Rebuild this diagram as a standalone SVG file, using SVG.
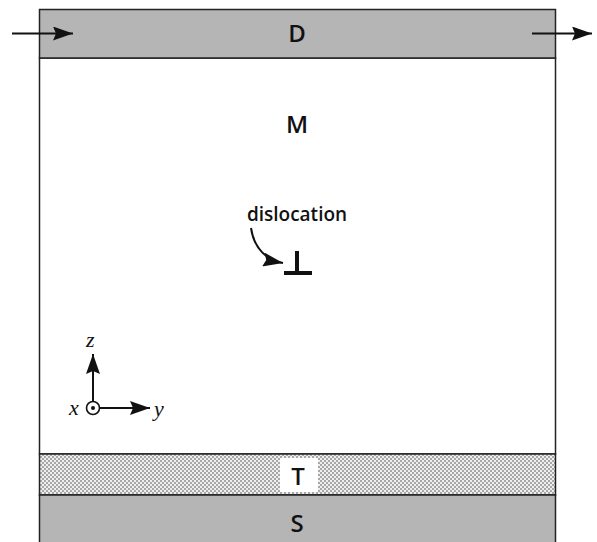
<svg xmlns="http://www.w3.org/2000/svg" width="597" height="542" viewBox="0 0 597 542">
<defs>
<style>
.layer{stroke:#222;stroke-width:1.5}
.gray{fill:#b5b5b5}
.lbl{font-family:"Open Sans","DejaVu Sans",sans-serif;font-weight:600;font-size:24px;fill:#111;text-anchor:middle}
.ax{font-family:"Liberation Serif",serif;font-style:italic;font-size:22px;fill:#111}
.line{stroke:#111;stroke-width:2;fill:none}
</style>
<marker id="big" viewBox="0 0 20 14" refX="20" refY="7" markerWidth="21" markerHeight="14" markerUnits="userSpaceOnUse" orient="auto">
<path d="M0,0 L20,7 L0,14 L3,7 z" fill="#111"/>
</marker>
<pattern id="chk" width="4" height="4" patternUnits="userSpaceOnUse">
<rect width="4" height="4" fill="#eeeeee"/>
<rect width="2" height="2" fill="#a8a8a8"/>
<rect x="2" y="2" width="2" height="2" fill="#a8a8a8"/>
</pattern>
</defs>
<rect width="597" height="542" fill="#fff"/>
<g id="M">
<rect x="39.5" y="58" width="516" height="396" fill="#fff" class="layer"/>
<text class="lbl" x="297" y="133">M</text>
</g>
<g id="D">
<rect x="39.5" y="9.5" width="516" height="48.5" class="layer gray"/>
<text class="lbl" x="297" y="42">D</text>
</g>
<g id="T">
<rect x="39.5" y="454" width="516" height="41" fill="url(#chk)" class="layer"/>
<rect x="280" y="458" width="38" height="34" fill="#fff"/>
<text class="lbl" x="298" y="485">T</text>
</g>
<g id="S">
<rect x="39.5" y="495" width="516" height="50" class="layer gray"/>
<text class="lbl" x="297" y="532">S</text>
</g>
<g id="dislocation">
<text x="297" y="221" style="font-family:'Open Sans','DejaVu Sans',sans-serif;font-weight:600;font-size:19px;fill:#111;text-anchor:middle">dislocation</text>
<path d="M297,251 V272 M284,273 H312" stroke="#111" stroke-width="4" fill="none"/>
</g>
<g id="axes">
<circle cx="93" cy="408" r="6.5" fill="#fff" stroke="#111" stroke-width="1.6"/>
<circle cx="93" cy="408" r="2" fill="#111"/>
<text class="ax" x="86" y="347">z</text>
<text class="ax" x="69" y="415">x</text>
<text class="ax" x="154" y="416">y</text>
</g>
<g id="connectors">
<line x1="12" y1="33.5" x2="73" y2="33.5" class="line" marker-end="url(#big)"/>
<line x1="532" y1="33.5" x2="592" y2="33.5" class="line" marker-end="url(#big)"/>
<path d="M251,228 C254,248 266,260 283,263" class="line" marker-end="url(#big)"/>
<line x1="93" y1="401" x2="93" y2="354" class="line" marker-end="url(#big)"/>
<line x1="100" y1="408" x2="150" y2="408" class="line" marker-end="url(#big)"/>
</g>
</svg>
